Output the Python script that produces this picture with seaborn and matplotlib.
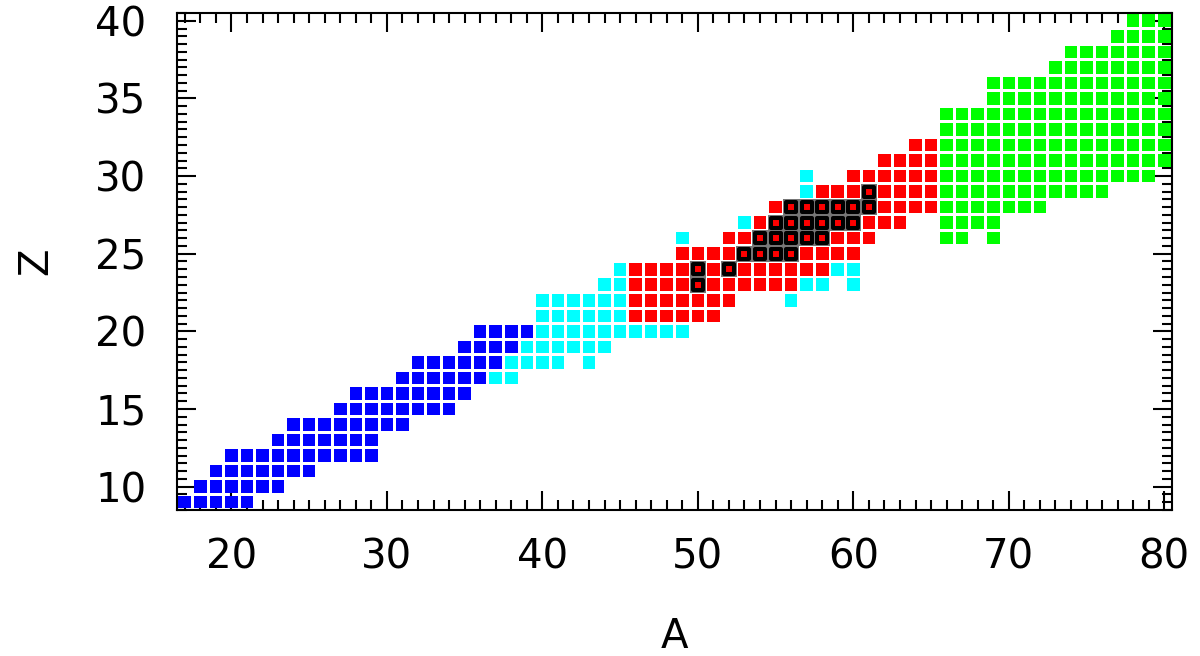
import matplotlib
matplotlib.use("Agg")
import matplotlib.pyplot as plt
from matplotlib.ticker import MultipleLocator
import seaborn as sns
import pandas as pd

# ---- data: runs of (Z, first A, last A) ----
blue_runs = [(9, 17, 21), (10, 18, 23), (11, 19, 25), (12, 20, 29), (13, 23, 29),
             (14, 24, 31), (15, 27, 34), (16, 28, 35), (17, 31, 36), (18, 32, 37),
             (19, 35, 38), (20, 36, 39)]
cyan_runs = [(17, 37, 38), (18, 38, 41), (18, 43, 43), (19, 39, 44), (20, 40, 49),
             (21, 40, 45), (22, 40, 45), (23, 44, 45), (24, 45, 45), (26, 49, 49),
             (22, 56, 56), (23, 57, 58), (23, 60, 60), (24, 59, 60), (27, 53, 53),
             (29, 57, 57), (30, 57, 57)]
red_runs = [(21, 46, 51), (22, 46, 52), (23, 46, 56), (24, 46, 58), (25, 49, 60),
            (26, 52, 61), (27, 54, 63), (28, 55, 65), (29, 58, 65), (30, 60, 65),
            (31, 62, 65), (32, 64, 65)]
green_runs = [(26, 66, 67), (26, 69, 69), (27, 66, 69), (28, 66, 72), (29, 66, 76),
              (30, 66, 79), (31, 66, 80), (32, 66, 80), (33, 66, 80), (34, 66, 80),
              (35, 69, 80), (36, 69, 80), (37, 73, 80), (38, 74, 80), (39, 77, 80),
              (40, 78, 80)]
marked_runs = [(23, 50, 50), (24, 50, 50), (24, 52, 52), (25, 53, 56), (26, 54, 58),
               (27, 55, 60), (28, 56, 61), (29, 61, 61)]

group_names = ["blue", "cyan", "red", "green"]
group_colors = ["#0000ff", "#00ffff", "#ff0000", "#00ff00"]
x_ticks = [20, 30, 40, 50, 60, 70, 80]
y_ticks = [10, 15, 20, 25, 30, 35, 40]


def expand(runs, name):
    rows = []
    for z, a0, a1 in runs:
        for a in range(a0, a1 + 1):
            rows.append({"A": a, "Z": z, "group": name})
    return rows


records = []
for runs, name in zip([blue_runs, cyan_runs, red_runs, green_runs], group_names):
    records += expand(runs, name)
df = pd.DataFrame(records)
marked = pd.DataFrame(expand(marked_runs, "marked"))

sns.set_style("white")
plt.rcParams["font.family"] = ["DejaVu Sans"]
plt.rcParams["text.color"] = "black"
plt.rcParams["axes.labelcolor"] = "black"
plt.rcParams["xtick.color"] = "black"
plt.rcParams["ytick.color"] = "black"

fig = plt.figure(figsize=(12, 6.56), dpi=100)
ax = fig.add_axes([0.1475, 0.2226, 0.8292, 0.7576])

sns.scatterplot(data=df, x="A", y="Z", hue="group", hue_order=group_names,
                palette=dict(zip(group_names, group_colors)), marker="s",
                s=82, linewidth=0, legend=False, ax=ax, zorder=2)
# marked nuclei: grey halo, thick black frame, small red centre
sns.scatterplot(data=marked, x="A", y="Z", color="#777777", marker="s",
                s=135, linewidth=0, legend=False, ax=ax, zorder=3)
sns.scatterplot(data=marked, x="A", y="Z", color="#ff0000", marker="s",
                s=52, edgecolor="black", linewidth=2.9, legend=False, ax=ax, zorder=4)

ax.set_xlim(16.5, 80.5)
ax.set_ylim(8.5, 40.5)
ax.set_xticks(x_ticks)
ax.set_yticks(y_ticks)
ax.xaxis.set_minor_locator(MultipleLocator(1))
ax.yaxis.set_minor_locator(MultipleLocator(0.5))
ax.tick_params(which="both", direction="in", top=True, right=True,
               bottom=True, left=True, color="black", labelcolor="black", width=1.5)
ax.tick_params(which="major", length=14, labelsize=29)
ax.tick_params(which="minor", length=7)
ax.tick_params(axis="x", which="major", pad=20)
ax.tick_params(axis="y", which="major", pad=22)
for sp in ax.spines.values():
    sp.set_visible(True)
    sp.set_color("black")
    sp.set_linewidth(1.5)

ax.set_xlabel("A", fontsize=29, labelpad=28, color="black")
ax.set_ylabel("Z", fontsize=29, labelpad=28, color="black")

fig.savefig("out.png", dpi=100)
